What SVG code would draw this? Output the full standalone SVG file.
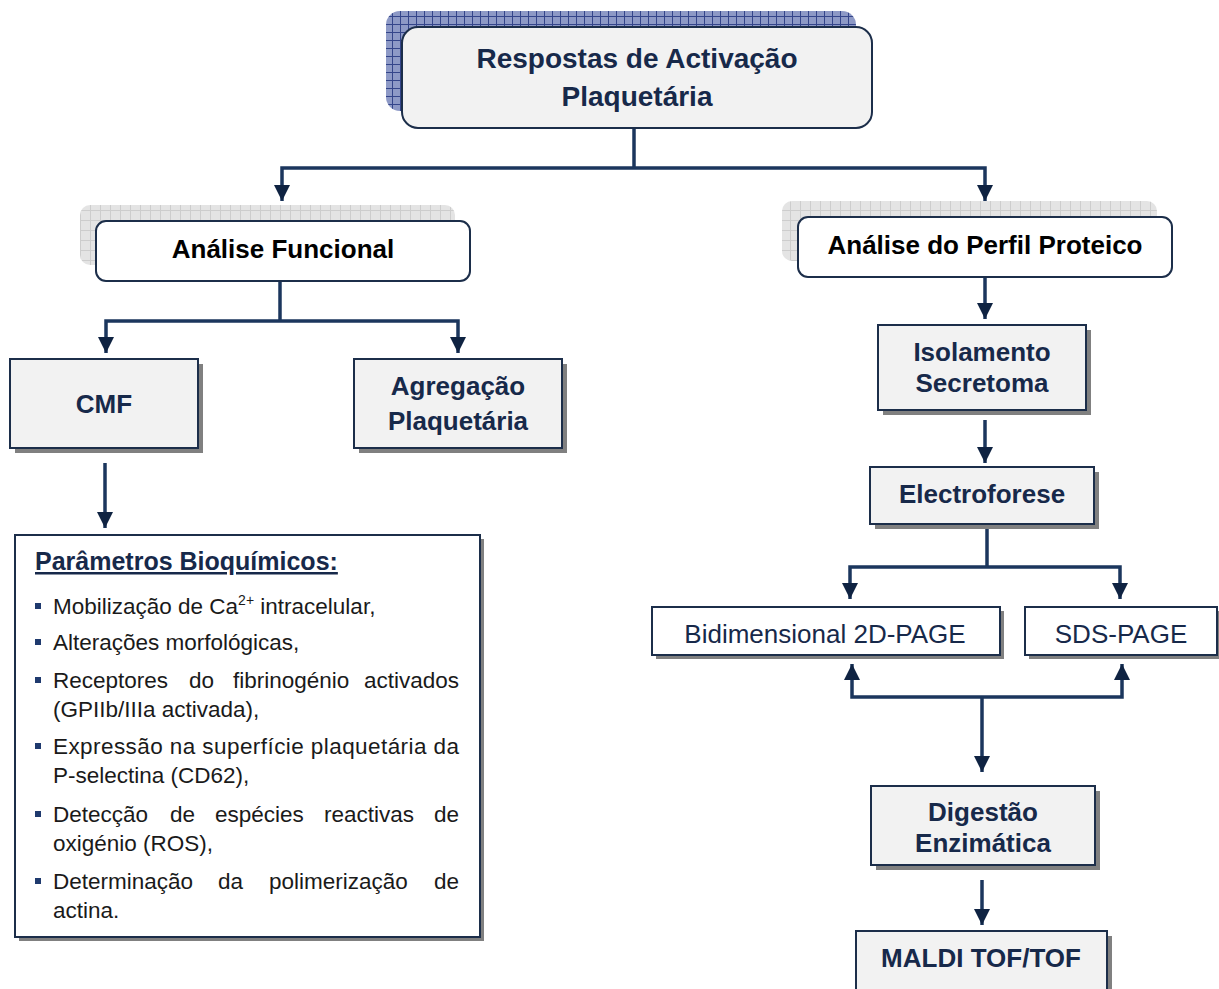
<svg xmlns="http://www.w3.org/2000/svg" width="1219" height="989" viewBox="0 0 1219 989">
<style>
.bg{fill:#ffffff}
.ln{fill:none;stroke:#1b365d;stroke-width:3.5}
.node{fill:#f2f2f2;stroke:#1c2e4a;stroke-width:2}
.wnode{fill:#ffffff;stroke:#1c2e4a;stroke-width:2}
.shd{fill:#808080}
.t-title{font-family:"Liberation Sans",Arial,sans-serif;font-weight:bold;font-size:28px;fill:#17294a;text-anchor:middle}
.t-an{font-family:"Liberation Sans",Arial,sans-serif;font-weight:bold;font-size:26px;fill:#000000;text-anchor:middle}
.t-b{font-family:"Liberation Sans",Arial,sans-serif;font-weight:bold;font-size:26px;fill:#17294a;text-anchor:middle}
.t-r{font-family:"Liberation Sans",Arial,sans-serif;font-size:26px;fill:#17294a;text-anchor:middle}
.t-h{font-family:"Liberation Sans",Arial,sans-serif;font-weight:bold;font-size:25px;fill:#17294a;text-decoration:underline}
.t-l{font-family:"Liberation Sans",Arial,sans-serif;font-size:22.5px;fill:#1a1a1a}
.bul{fill:#1f3a6e}
</style>
<defs>
<pattern id="blueGrid" width="8" height="8" patternUnits="userSpaceOnUse">
<rect width="8" height="8" fill="#8d99c6"/>
<path d="M0,0.5H8M0.5,0V8" stroke="#34458a" stroke-width="1"/>
</pattern>
<pattern id="greyGrid" width="10" height="10" patternUnits="userSpaceOnUse">
<rect width="10" height="10" fill="#e4e4e4"/>
<path d="M0,0.5H10M0.5,0V10" stroke="#cdcdcd" stroke-width="1"/>
</pattern>
<marker id="ah" markerUnits="userSpaceOnUse" markerWidth="16" markerHeight="16" refX="16" refY="8" orient="auto" viewBox="0 0 16 16">
<path d="M0,0 L16,8 L0,16 z" fill="#0f2342"/>
</marker>
</defs>
<rect class="bg" x="0" y="0" width="1219" height="989"/>

<g id="connectors">
<path class="ln" d="M634,129 V168"/>
<path class="ln" d="M634,168 H282 V201" marker-end="url(#ah)"/>
<path class="ln" d="M634,168 H985 V201" marker-end="url(#ah)"/>
<path class="ln" d="M280,281 V321"/>
<path class="ln" d="M280,321 H106 V353" marker-end="url(#ah)"/>
<path class="ln" d="M280,321 H458 V353" marker-end="url(#ah)"/>
<path class="ln" d="M105,463 V528" marker-end="url(#ah)"/>
<path class="ln" d="M985,277 V319" marker-end="url(#ah)"/>
<path class="ln" d="M985,420 V463" marker-end="url(#ah)"/>
<path class="ln" d="M987,524 V567"/>
<path class="ln" d="M987,567 H850 V599" marker-end="url(#ah)"/>
<path class="ln" d="M987,567 H1120 V599" marker-end="url(#ah)"/>
<path class="ln" d="M982,697 H852 V664" marker-end="url(#ah)"/>
<path class="ln" d="M982,697 H1122 V664" marker-end="url(#ah)"/>
<path class="ln" d="M982,697 V772" marker-end="url(#ah)"/>
<path class="ln" d="M982,880 V925" marker-end="url(#ah)"/>
</g>

<g id="n-respostas">
<rect x="386" y="11" width="470" height="100" rx="14" fill="url(#blueGrid)"/>
<rect class="node" x="402" y="27" width="470" height="101" rx="16"/>
<text class="t-title" x="637" y="68">Respostas de Activação</text>
<text class="t-title" x="637" y="106">Plaquetária</text>
</g>

<g id="n-funcional">
<rect x="80" y="205" width="375" height="60" rx="10" fill="url(#greyGrid)"/>
<rect class="wnode" x="96" y="221" width="374" height="60" rx="10"/>
<text class="t-an" x="283" y="258">Análise Funcional</text>
</g>

<g id="n-perfil">
<rect x="782" y="201" width="375" height="60" rx="10" fill="url(#greyGrid)"/>
<rect class="wnode" x="798" y="217" width="374" height="60" rx="10"/>
<text class="t-an" x="985" y="254">Análise do Perfil Proteico</text>
</g>

<g id="n-cmf">
<rect class="shd" x="15" y="364" width="188" height="89"/>
<rect class="node" x="10" y="359" width="188" height="89"/>
<text class="t-b" x="104" y="413">CMF</text>
</g>

<g id="n-agregacao">
<rect class="shd" x="359" y="364" width="208" height="89"/>
<rect class="node" x="354" y="359" width="208" height="89"/>
<text class="t-b" x="458" y="395">Agregação</text>
<text class="t-b" x="458" y="430">Plaquetária</text>
</g>

<g id="n-parametros">
<rect class="shd" x="19" y="539" width="465" height="402"/>
<rect class="wnode" x="15" y="535" width="465" height="402"/>
<text class="t-h" x="35" y="570">Parâmetros Bioquímicos:</text>
<rect class="bul" x="35" y="603" width="6" height="6"/>
<text class="t-l" x="53" y="614">Mobilização de Ca<tspan font-size="14" dy="-9">2+</tspan><tspan dy="9"> intracelular,</tspan></text>
<rect class="bul" x="35" y="639" width="6" height="6"/>
<text class="t-l" x="53" y="650">Alterações morfológicas,</text>
<rect class="bul" x="35" y="677" width="6" height="6"/>
<text class="t-l" y="688"><tspan x="53">Receptores</tspan><tspan x="189">do</tspan><tspan x="233">fibrinogénio</tspan><tspan x="459" text-anchor="end">activados</tspan></text>
<text class="t-l" x="53" y="717">(GPIIb/IIIa activada),</text>
<rect class="bul" x="35" y="743" width="6" height="6"/>
<text class="t-l" x="53" y="754" textLength="406" lengthAdjust="spacing">Expressão na superfície plaquetária da</text>
<text class="t-l" x="53" y="783">P-selectina (CD62),</text>
<rect class="bul" x="35" y="811" width="6" height="6"/>
<text class="t-l" y="822"><tspan x="53">Detecção</tspan><tspan x="170">de</tspan><tspan x="215">espécies</tspan><tspan x="324">reactivas</tspan><tspan x="459" text-anchor="end">de</tspan></text>
<text class="t-l" x="53" y="851">oxigénio (ROS),</text>
<rect class="bul" x="35" y="878" width="6" height="6"/>
<text class="t-l" y="889"><tspan x="53">Determinação</tspan><tspan x="218">da</tspan><tspan x="269">polimerização</tspan><tspan x="459" text-anchor="end">de</tspan></text>
<text class="t-l" x="53" y="918">actina.</text>
</g>

<g id="n-isolamento">
<rect class="shd" x="883" y="330" width="208" height="85"/>
<rect class="node" x="878" y="325" width="208" height="85"/>
<text class="t-b" x="982" y="361">Isolamento</text>
<text class="t-b" x="982" y="392">Secretoma</text>
</g>

<g id="n-electroforese">
<rect class="shd" x="875" y="472" width="224" height="57"/>
<rect class="node" x="870" y="467" width="224" height="57"/>
<text class="t-b" x="982" y="503">Electroforese</text>
</g>

<g id="n-bidimensional">
<rect class="shd" x="656" y="611" width="348" height="48"/>
<rect class="wnode" x="652" y="607" width="348" height="48"/>
<text class="t-r" x="825" y="643">Bidimensional 2D-PAGE</text>
</g>

<g id="n-sds">
<rect class="shd" x="1029" y="611" width="190" height="48"/>
<rect class="wnode" x="1025" y="607" width="192" height="48"/>
<text class="t-r" x="1121" y="643">SDS-PAGE</text>
</g>

<g id="n-digestao">
<rect class="shd" x="876" y="791" width="224" height="79"/>
<rect class="node" x="871" y="786" width="224" height="79"/>
<text class="t-b" x="983" y="821">Digestão</text>
<text class="t-b" x="983" y="852">Enzimática</text>
</g>

<g id="n-maldi">
<rect class="shd" x="861" y="936" width="251" height="56"/>
<rect class="node" x="856" y="931" width="251" height="60"/>
<text class="t-b" x="981" y="967">MALDI TOF/TOF</text>
</g>
</svg>
